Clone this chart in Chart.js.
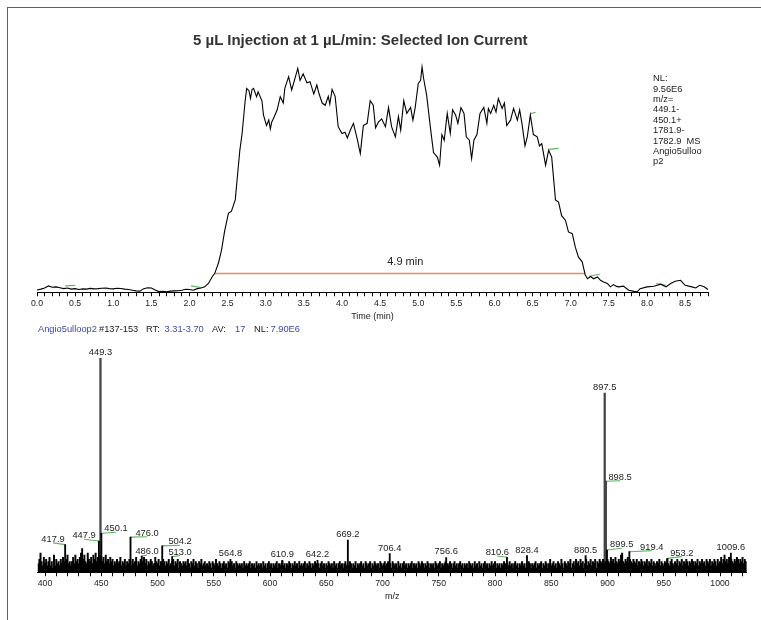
<!DOCTYPE html>
<html>
<head>
<meta charset="utf-8">
<script src="https://cdn.jsdelivr.net/npm/chart.js@4/dist/chart.umd.min.js"></script>
<style>
html,body{margin:0;padding:0;background:#fff;}
#wrap{position:relative;width:761px;height:620px;overflow:hidden;font-family:"Liberation Sans",Arial,sans-serif;color:#222;}
canvas{position:absolute;left:0;top:0;}
#frame{position:absolute;left:6.5px;top:6.5px;width:760px;height:620px;border-top:1.5px solid #4062ab;border-left:1.5px solid #4062ab;}
#title{position:absolute;left:193px;top:32px;font-weight:bold;font-size:15px;line-height:15px;color:#333;white-space:nowrap;}
#nl{position:absolute;left:653px;top:73.2px;font-size:9.3px;line-height:10.4px;color:#222;white-space:pre;}
#hdr span{position:absolute;top:324.4px;font-size:9.3px;line-height:10.4px;white-space:nowrap;}
.b{color:#3c4aa2;}
.k{color:#222;}
</style>
</head>
<body>
<div id="wrap">
  <div id="frame"></div>
  <canvas id="chrom" width="761" height="620"></canvas>
  <canvas id="spec" width="761" height="620"></canvas>
  <div id="title">5 µL Injection at 1 µL/min: Selected Ion Current</div>
  <div id="nl">NL:
9.56E6
m/z=
449.1-
450.1+
1781.9-
1782.9  MS
Angio5ulloo
p2</div>
  <div id="hdr">
    <span class="b" style="left:38px">Angio5ulloop2</span>
    <span class="k" style="left:99px">#137-153</span>
    <span class="k" style="left:146px">RT:</span>
    <span class="b" style="left:164.5px">3.31-3.70</span>
    <span class="k" style="left:212px">AV:</span>
    <span class="b" style="left:235px">17</span>
    <span class="k" style="left:254px">NL:</span>
    <span class="b" style="left:270.5px">7.90E6</span>
  </div>
</div>
<script>
// ---------- Chromatogram (top) ----------
const timeMin = 0, timeMax = 8.8;
const chromTime = [
  0.00,0.05,0.10,0.15,0.20,0.25,0.30,0.35,0.40,0.45,
  0.50,0.55,0.60,0.65,0.70,0.75,0.80,0.85,0.90,0.95,
  1.00,1.05,1.10,1.15,1.20,1.25,1.30,1.35,1.40,1.45,
  1.50,1.55,1.60,1.65,1.70,1.75,1.80,1.85,1.90,1.95,
  2.00,2.05,2.10,2.15,2.20,2.25,2.30,2.33,2.38,2.42,
  2.46,2.51,2.55,2.60,2.64,2.66,2.69,2.73,2.75,2.78,
  2.80,2.82,2.84,2.88,2.90,2.95,2.97,3.01,3.04,3.06,
  3.08,3.10,3.15,3.19,3.23,3.25,3.30,3.34,3.39,3.42,
  3.45,3.49,3.54,3.58,3.63,3.67,3.70,3.74,3.78,3.82,
  3.84,3.87,3.91,3.95,4.00,4.04,4.07,4.11,4.15,4.20,
  4.24,4.28,4.33,4.37,4.41,4.44,4.48,4.52,4.57,4.61,
  4.65,4.70,4.74,4.77,4.81,4.85,4.90,4.93,4.96,5.00,
  5.03,5.05,5.07,5.11,5.16,5.20,5.25,5.28,5.31,5.34,
  5.38,5.42,5.45,5.49,5.52,5.56,5.60,5.63,5.67,5.70,
  5.73,5.77,5.81,5.86,5.90,5.92,5.95,5.99,6.02,6.05,
  6.10,6.13,6.16,6.21,6.25,6.30,6.33,6.36,6.40,6.43,
  6.47,6.51,6.56,6.59,6.62,6.67,6.71,6.75,6.80,6.84,
  6.88,6.93,6.97,7.02,7.06,7.10,7.15,7.19,7.22,7.26,
  7.30,7.35,7.39,7.43,7.48,7.52,7.56,7.60,7.63,7.69,
  7.76,7.83,7.87,7.91,8.00,8.09,8.18,8.25,8.31,8.37,
  8.44,8.50,8.59,8.64,8.69,8.75,8.80
];
const chromIntensity = [
  1.0,1.4,1.9,2.8,2.2,2.4,2.0,1.6,1.9,1.4,
  1.6,1.2,1.5,1.4,1.7,1.5,1.6,1.8,1.9,1.6,
  1.5,1.8,1.7,1.4,1.2,0.9,0.6,0.5,1.6,2.0,
  1.9,1.0,0.3,0.4,0.2,0.5,0.6,0.7,0.9,1.3,
  1.2,0.9,1.6,1.9,2.4,4.0,7.0,8.3,13.0,18.7,
  27.0,35.0,36.0,41.0,55.7,63.0,70.5,85.0,90.5,89.5,
  86.0,90.0,90.5,86.8,89.0,85.0,78.7,74.0,76.5,72.5,
  75.7,77.0,81.0,86.8,84.0,90.5,95.7,89.8,95.7,99.4,
  94.0,97.0,93.0,93.5,88.0,92.0,88.0,84.0,83.0,87.0,
  83.5,90.0,87.0,73.5,70.5,71.0,68.5,72.0,75.0,68.0,
  61.6,74.0,75.0,85.0,83.0,73.0,75.7,77.0,73.5,82.0,
  73.5,69.0,78.0,72.0,85.0,79.4,82.0,76.4,82.0,92.7,
  94.0,100.0,95.0,87.5,73.0,62.0,60.0,56.4,70.0,67.5,
  79.4,70.6,81.0,78.7,75.0,82.0,79.4,69.0,67.5,59.4,
  67.5,70.0,79.4,82.0,75.0,81.6,79.4,83.0,80.0,86.0,
  81.6,84.0,74.0,76.4,81.6,76.4,81.0,75.0,65.0,69.0,
  78.7,70.0,69.0,65.0,66.0,56.4,63.0,60.0,41.0,40.0,
  34.0,32.0,26.8,26.0,20.0,15.7,13.5,7.6,6.0,7.0,
  6.0,6.8,5.3,4.6,3.9,2.4,3.4,2.6,2.4,2.7,
  0.9,0.4,0.2,1.6,2.4,2.7,3.6,2.4,3.9,4.9,
  5.3,3.1,2.4,1.9,3.1,2.4,1.2
];
// integration bar and its label
const integrationTimes = [2.33, 7.19];
const integrationLevel = 8.3;
const durationLabel = '4.9 min';
const durationLabelTime = 4.83;
// small green peak-detection marks (start/end)
const markStartTime = [0.37, 2.02, 7.24, 8.12, 6.47, 6.71];
const markStartInt  = [2.8, 2.8, 7.1, 3.9, 79.2, 63.4];
const markEndTime   = [0.50, 2.15, 7.38, 8.25, 6.54, 6.84];
const markEndInt    = [3.1, 2.1, 8.0, 3.1, 79.9, 63.9];

// ---------- Mass spectrum (bottom) ----------
const mzMin = 393.5, mzMax = 1023.7;
const noiseStartMz = 394; // one value per m/z unit from here
const noiseIntensity = [
  4,6,9,5,3,7,4,6,3,5, 7,3,5,2,8,3,6,4,5,3, 6,4,7,5,3,6,8,4,5,3,
  5,7,4,8,5,6,4,7,9,11, 6,8,5,4,9,6,5,7,4,8, 6,9,5,7,6,8,6,5,7,4,
  8,5,6,4,7,5,6,3,5,4, 6,4,5,7,3,5,4,6,3,5, 4,6,5,3,6,4,5,7,3,5,
  4,6,3,5,7,4,6,3,5,4, 6,5,3,4,7,5,4,6,3,5, 4,6,5,3,5,4,6,3,4,5,
  6,3,5,4,6,2,5,4,3,5, 4,5,3,6,4,2,5,4,6,3, 5,4,2,5,4,6,3,4,5,3,
  4,3,5,4,2,5,4,3,6,4, 3,5,4,2,4,5,3,4,2,5, 4,3,5,3,4,2,5,4,3,4,
  3,4,2,5,3,4,3,4,5,2, 4,3,4,2,5,3,4,3,4,2, 5,3,4,2,4,5,3,4,2,4,
  3,4,5,2,4,3,4,5,3,4, 2,4,3,5,4,2,4,3,5,3, 4,2,5,3,4,3,4,5,2,4,
  3,5,4,2,4,3,5,4,3,4, 2,4,5,3,4,2,4,3,5,4, 3,4,2,5,3,4,2,4,5,3,
  4,2,4,5,3,4,3,5,4,2, 4,3,5,2,4,3,4,5,3,4, 2,5,4,3,4,5,2,4,3,5,
  4,3,4,2,5,4,3,4,5,3, 4,5,3,4,2,5,4,3,4,2, 5,3,4,2,4,5,3,4,2,4,
  3,4,5,2,4,3,4,2,5,4, 3,5,4,2,4,3,5,4,2,4, 3,4,2,5,4,3,4,5,2,4,
  3,4,5,2,4,3,5,4,2,4, 5,3,4,2,4,5,3,4,2,4, 3,4,2,5,4,3,4,2,5,3,
  4,2,5,3,4,2,4,5,3,4, 2,4,3,5,3,4,5,2,4,3, 4,2,4,3,5,4,2,4,3,5,
  3,4,2,4,5,3,4,2,4,3, 5,3,4,2,4,3,5,4,2,4, 3,4,5,2,4,3,4,5,2,4,
  3,5,4,2,4,6,3,4,5,3, 4,2,5,4,3,6,4,2,5,4, 3,5,4,6,2,4,5,3,6,4,
  5,3,6,4,5,2,4,6,3,5, 4,6,3,5,4,6,2,5,4,6, 5,4,6,4,5,4,6,5,4,7,
  5,6,4,7,5,4,6,5,8,9, 5,4,6,5,7,4,6,5,4,6, 5,4,6,3,5,4,6,5,3,5,
  4,6,3,5,4,6,3,5,4,3, 5,4,6,3,5,4,3,5,4,6, 4,3,5,6,4,3,5,4,6,3,
  5,4,6,3,5,4,6,5,3,5, 4,6,5,3,5,4,6,3,5,4, 6,4,5,3,6,5,4,6,3,5,
  4,6,5,3,6,4,5,7,4,6, 8,5,6,4,7,5,6,5,4,6, 5,7,6,4,6,5,7,4,6,5
];
// labelled peaks
const peakLabel     = ['449.3','897.5','898.5','417.9','447.9','450.1','476.0','486.0','504.2','513.0','564.8','610.9','642.2','669.2','706.4','756.6','810.6','828.4','880.5','899.5','919.4','953.2','1009.6'];
const peakMz        = [449.3, 897.5, 898.5, 417.9, 447.9, 450.1, 476.0, 486.0, 504.2, 513.0, 564.8, 610.9, 642.2, 669.2, 706.4, 756.6, 810.6, 828.4, 880.5, 899.5, 919.4, 953.2, 1009.6];
const peakIntensity = [100, 83.6, 42.5, 12.9, 14.6, 18.2, 16.4, 7.6, 12.3, 7.3, 6.0, 5.6, 5.6, 15.0, 8.7, 6.9, 7.0, 7.8, 7.8, 10.4, 9.6, 6.5, 9.0];
const labelMz        = [449.3, 897.5, 911.1, 407.1, 434.7, 463.1, 490.7, 490.7, 520.0, 520.0, 564.8, 610.9, 642.2, 669.2, 706.4, 756.6, 802.0, 828.4, 880.5, 912.6, 939.3, 966.0, 1009.6];
const labelIntensity = [100, 83.6, 42.7, 13.7, 15.4, 18.7, 16.6, 8.0, 12.6, 7.8, 6.0, 5.6, 5.6, 15.0, 8.7, 6.9, 7.6, 7.8, 7.8, 11.2, 10.1, 7.3, 9.0];

// ---------- drawing ----------
const FONT = '"Liberation Sans", Arial, sans-serif';
const GREEN = '#5cb85c';

function segments(x1, y1, x2, y2) {
  const pts = [];
  x1.forEach((v, i) => { pts.push({x: v, y: y1[i]}, {x: x2[i], y: y2[i]}, {x: x2[i], y: null}); });
  return pts;
}

const durationPlugin = {
  id: 'duration',
  afterDatasetsDraw(chart) {
    const {ctx, scales: {x, y}} = chart;
    ctx.save();
    ctx.font = '11px ' + FONT;
    ctx.fillStyle = '#222';
    ctx.textAlign = 'center';
    ctx.textBaseline = 'alphabetic';
    ctx.fillText(durationLabel, x.getPixelForValue(durationLabelTime), y.getPixelForValue(integrationLevel) - 8.5);
    ctx.restore();
  }
};

const peakLabelPlugin = {
  id: 'peakLabels',
  afterDatasetsDraw(chart) {
    const {ctx, scales: {x, y}} = chart;
    ctx.save();
    ctx.font = '9.3px ' + FONT;
    ctx.fillStyle = '#222';
    ctx.textAlign = 'center';
    ctx.textBaseline = 'alphabetic';
    peakLabel.forEach((txt, i) => {
      const shifted = labelMz[i] !== peakMz[i];
      ctx.fillText(txt, x.getPixelForValue(labelMz[i]), y.getPixelForValue(labelIntensity[i]) - (shifted ? 1 : 3));
    });
    ctx.restore();
  }
};

function xAxis(min, max, step, titleText, labelFn) {
  return {
    type: 'linear', min: min, max: max, offset: false,
    border: {display: true, color: '#000', width: 1},
    grid: {display: true, offset: false, drawOnChartArea: false, drawTicks: true, tickLength: 4, color: '#000', lineWidth: 1},
    ticks: {stepSize: step, autoSkip: false, maxRotation: 0, minRotation: 0, includeBounds: false, padding: 2,
            color: '#222', font: {family: FONT, size: 8.7}, callback: labelFn},
    title: {display: true, text: titleText, color: '#222', font: {family: FONT, size: 9}, padding: {top: 0, bottom: 0}}
  };
}

new Chart(document.getElementById('chrom'), {
  type: 'line',
  data: {
    datasets: [
      {data: chromTime.map((t, i) => ({x: t, y: chromIntensity[i]})), borderColor: '#000', borderWidth: 1.1,
       pointRadius: 0, tension: 0, clip: 4},
      {data: integrationTimes.map(t => ({x: t, y: integrationLevel})), borderColor: '#ef8a5c', borderWidth: 1.4, pointRadius: 0},
      {data: segments(markStartTime, markStartInt, markEndTime, markEndInt), borderColor: GREEN, borderWidth: 1.2,
       pointRadius: 0, spanGaps: false, clip: 4}
    ]
  },
  options: {
    responsive: false, animation: false, devicePixelRatio: 1, events: [],
    layout: {padding: {top: 67, left: 37, right: 53, bottom: 298.5}},
    plugins: {legend: {display: false}, tooltip: {enabled: false}, title: {display: false}},
    scales: {
      x: xAxis(timeMin, timeMax, 0.1, 'Time (min)', v => {
        const r = Math.round(v * 10);
        return r % 5 === 0 ? (r / 10).toFixed(1) : '';
      }),
      y: {type: 'linear', min: 0, max: 100, display: false}
    }
  },
  plugins: [durationPlugin]
});

const leaders = [];
peakMz.forEach((m, i) => {
  if (labelMz[i] !== m) {
    leaders.push({x: labelMz[i], y: labelIntensity[i]}, {x: m, y: peakIntensity[i]}, {x: m, y: null});
  }
});

new Chart(document.getElementById('spec'), {
  type: 'bar',
  data: {
    datasets: [
      {type: 'bar', data: noiseIntensity.map((v, i) => ({x: noiseStartMz + i, y: v})), backgroundColor: '#000',
       barThickness: 1.3, grouped: false, borderWidth: 0},
      {type: 'bar', data: peakMz.map((m, i) => ({x: m, y: peakIntensity[i]})).filter(p => p.y < 30),
       backgroundColor: '#000', barThickness: 1.2, grouped: false, borderWidth: 0},
      {type: 'bar', data: peakMz.map((m, i) => ({x: m, y: peakIntensity[i]})).filter(p => p.y >= 30),
       backgroundColor: '#444', barThickness: 1.6, grouped: false, borderWidth: 0},
      {type: 'line', data: leaders, borderColor: GREEN, borderWidth: 1.1, pointRadius: 0, spanGaps: false, clip: 4}
    ]
  },
  options: {
    responsive: false, animation: false, devicePixelRatio: 1, events: [],
    layout: {padding: {top: 358, left: 37.7, right: 14.3, bottom: 18.5}},
    plugins: {legend: {display: false}, tooltip: {enabled: false}, title: {display: false}},
    scales: {
      x: xAxis(mzMin, mzMax, 10, 'm/z', v => (Math.round(v) % 50 === 0 ? String(Math.round(v)) : '')),
      y: {type: 'linear', min: 0, max: 100, display: false}
    }
  },
  plugins: [peakLabelPlugin]
});
</script>
</body>
</html>
